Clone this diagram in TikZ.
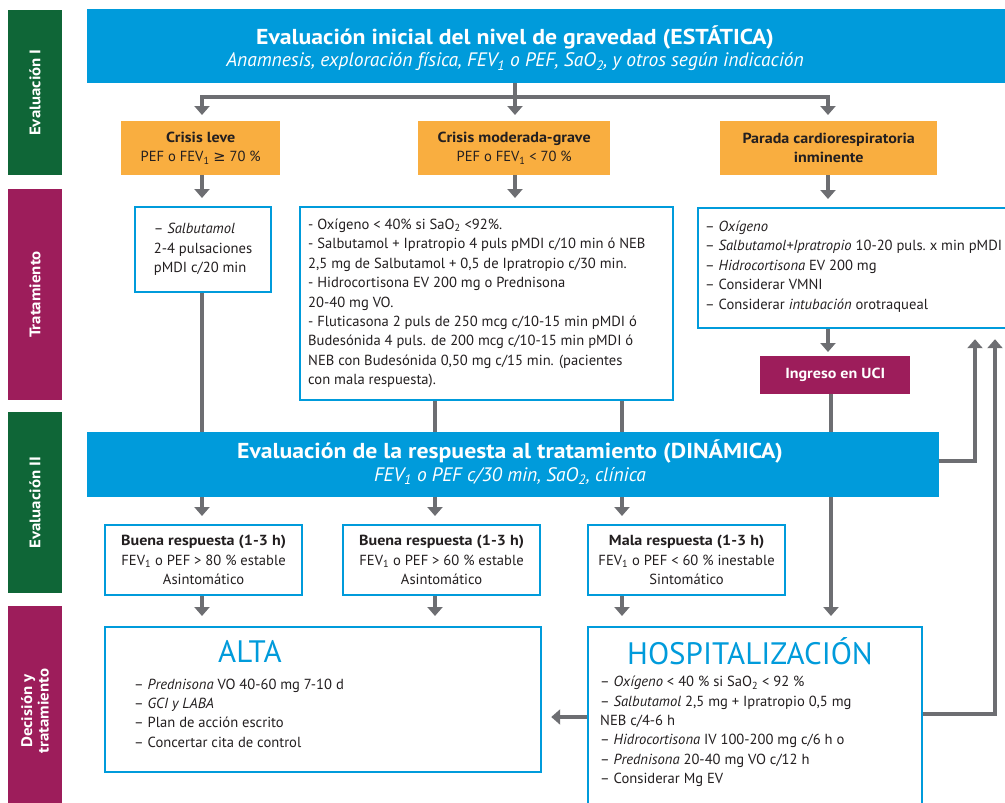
\documentclass[tikz,border=0pt]{standalone}
\usepackage{fontspec}
\setmainfont{PT Sans}[BoldFeatures={FakeStretch=1.1}]
\newfontfamily\symfont{DejaVu Sans}
\usetikzlibrary{arrows.meta,backgrounds}

\definecolor{hdrblue}{HTML}{009BDB}
\definecolor{sidegreen}{HTML}{0F6637}
\definecolor{sidepurple}{HTML}{9D1D5B}
\definecolor{crisisorange}{HTML}{F9AE40}
\definecolor{arrowgray}{HTML}{6D6E72}
\definecolor{inktext}{HTML}{231F20}

\newcommand{\fevi}{FEV\textsubscript{1}}
\newcommand{\saoii}{SaO\textsubscript{2}}

\tikzset{
  bodytext/.style={font=\fontsize{14.6}{19.4}\selectfont, text=inktext},
  sidebar/.style={rotate=90, text=white, font=\bfseries\fontsize{15.3}{16.5}\selectfont,
    minimum height=54pt, inner sep=0pt, align=center},
  hdrbox/.style={fill=hdrblue, inner sep=0pt, anchor=north west},
  hdrtitle/.style={text=white, font=\bfseries\fontsize{21.6}{23}\selectfont, inner sep=0pt},
  hdrsub/.style={text=white, font=\itshape\fontsize{19.5}{21}\selectfont, inner sep=0pt},
  crisisbox/.style={bodytext, fill=crisisorange, inner sep=0pt, align=center, anchor=north west},
  tbox/.style={bodytext, draw=hdrblue, line width=2.2pt, fill=white, inner sep=0pt, anchor=north west},
  ucibox/.style={fill=sidepurple, text=white, font=\bfseries\fontsize{14.6}{17}\selectfont,
    inner sep=0pt, anchor=north west},
  bigtitle/.style={text=hdrblue, font=\fontsize{31}{34}\selectfont, inner sep=0pt},
  listtext/.style={bodytext, align=left, inner sep=0pt, anchor=west}
}

\begin{document}
\begin{tikzpicture}[x=1pt, y=-1pt,
    arr/.style={draw=arrowgray, line width=4pt, -{Triangle[width=15pt,length=9pt]}},
    link/.style={draw=arrowgray, line width=4pt}]
  \useasboundingbox (0,0) rectangle (1005,803);

  % columns of the connectors
  \coordinate (c1) at (202,0);
  \coordinate (c2) at (435,0);
  \coordinate (c3) at (622,0);
  \coordinate (c4) at (831,0);
  \coordinate (cm) at (515,0);
  \coordinate (cp) at (828,0);
  \coordinate (fb1) at (975,0);
  \coordinate (fb2) at (995,0);

  % side labels
  \node[sidebar, fill=sidegreen, minimum width=165pt] (evi) at (35,92.5) {Evaluación I};
  \node[sidebar, fill=sidepurple, minimum width=211pt] (trat) at (35,294.5) {Tratamiento};
  \node[sidebar, fill=sidegreen, minimum width=181pt] (evii) at (35,502.5) {Evaluación II};
  \node[sidebar, fill=sidepurple, minimum width=210pt] (dec) at (35,711) {Decisión y\\tratamiento};

  % initial evaluation
  \node[hdrbox, minimum width=918pt, minimum height=74pt] (hdr) at (87,9) {};
  \node[hdrtitle] (hdrt) at (515,37) {Evaluación inicial del nivel de gravedad (ESTÁTICA)};
  \node[hdrsub] (hdrs) at (515,62) {Anamnesis, exploración física, \fevi{} o PEF, \saoii, y otros según indicación};

  % severity
  \node[crisisbox, minimum width=159pt, minimum height=54pt] (leve) at (121,121)
    {\textbf{Crisis leve}\\PEF o \fevi{} {\symfont ≥} 70 \%};
  \node[crisisbox, minimum width=192pt, minimum height=54pt] (mod) at (418,121)
    {\textbf{Crisis moderada-grave}\\PEF o \fevi{} < 70 \%};
  \node[crisisbox, minimum width=217pt, minimum height=54pt, font=\bfseries\fontsize{14.6}{19.4}\selectfont] (par) at (720,121)
    {Parada cardiorespiratoria\\inminente};

  % treatment
  \node[tbox, minimum width=136pt, minimum height=85pt, align=left] (salb) at (134,206)
    {-- \textit{Salbutamol}\\2-4 pulsaciones\\pMDI c/20 min};
  \node[tbox, minimum width=373pt, minimum height=193pt] (modt) at (299,206) {};
  \node[listtext] (modtxt) at (308,303.5)
    {- Oxígeno < 40\% si \saoii{} <92\%.\\
     - Salbutamol + Ipratropio 4 puls pMDI c/10 min ó NEB\\
     2,5 mg de Salbutamol + 0,5 de Ipratropio c/30 min.\\
     - Hidrocortisona EV 200 mg o Prednisona\\
     20-40 mg VO.\\
     - Fluticasona 2 puls de 250 mcg c/10-15 min pMDI ó\\
     Budesónida 4 puls. de 200 mcg c/10-15 min pMDI ó\\
     NEB con Budesónida 0,50 mg c/15 min. (pacientes\\
     con mala respuesta).};
  \node[tbox, minimum width=320pt, minimum height=120pt] (part) at (697,207) {};
  \node[listtext] (parttxt) at (705,266.5)
    {-- \textit{Oxígeno}\\
     -- \textit{Salbutamol+Ipratropio} 10-20 puls.\ x min pMDI\\
     -- \textit{Hidrocortisona} EV 200 mg\\
     -- Considerar VMNI\\
     -- Considerar \textit{intubación} orotraqueal};
  \node[ucibox, minimum width=150pt, minimum height=38pt] (uci) at (760,356) {Ingreso en UCI};

  % response evaluation
  \node[hdrbox, minimum width=852pt, minimum height=65pt] (ev2) at (87,432) {};
  \node[hdrtitle] (ev2t) at (510,451) {Evaluación de la respuesta al tratamiento (DINÁMICA)};
  \node[hdrsub] (ev2s) at (510,476) {\fevi{} o PEF c/30 min, \saoii, clínica};

  \node[tbox, minimum width=197pt, minimum height=70pt, align=center] (r1) at (104,524)
    {\textbf{Buena respuesta (1-3 h)}\\\fevi{} o PEF > 80 \% estable\\Asintomático};
  \node[tbox, minimum width=197pt, minimum height=70pt, align=center] (r2) at (342,524)
    {\textbf{Buena respuesta (1-3 h)}\\\fevi{} o PEF > 60 \% estable\\Asintomático};
  \node[tbox, minimum width=197pt, minimum height=70pt, align=center] (r3) at (587,524)
    {\textbf{Mala respuesta (1-3 h)}\\\fevi{} o PEF < 60 \% inestable\\Sintomático};

  % decision
  \node[tbox, minimum width=436pt, minimum height=145pt] (alta) at (104,626) {};
  \node[bigtitle] (altat) at (250,651) {ALTA};
  \node[listtext] (altal) at (134,713)
    {-- \textit{Prednisona} VO 40-60 mg 7-10 d\\
     -- \textit{GCI y LABA}\\
     -- Plan de acción escrito\\
     -- Concertar cita de control};

  \node[tbox, minimum width=334pt, minimum height=210pt] (hosp) at (587,626) {};
  \node[bigtitle] (hospt) at (750,651) {HOSPITALIZACIÓN};
  \node[listtext] (hospl) at (600,731.5)
    {-- \textit{Oxígeno} < 40 \% si \saoii{} < 92 \%\\
     -- \textit{Salbutamol} 2,5 mg + Ipratropio 0,5 mg\\
     NEB c/4-6 h\\
     -- \textit{Hidrocortisona} IV 100-200 mg c/6 h o\\
     -- \textit{Prednisona} 20-40 mg VO c/12 h\\
     -- Considerar Mg EV};
  \coordinate (hback) at ([yshift=-88pt]hosp.north east);
  \coordinate (hleft) at ([yshift=-91pt]hosp.north west);

  % connectors, kept under the boxes
  \begin{pgfonlayer}{background}
    \draw[link] (hdr.south -| cm) -- (cm |- 0,97) coordinate (split);
    \draw[arr, shorten >=6pt] (split) -| (leve.north -| c1);
    \draw[arr, shorten >=6pt] (split) -- (mod.north -| cm);
    \draw[arr, shorten >=6pt] (split) -| (par.north -| cp);
    \draw[arr, shorten >=8pt] (leve.south -| c1) -- (salb.north -| c1);
    \draw[arr, shorten >=8pt] (mod.south -| cm) -- (modt.north -| cm);
    \draw[arr, shorten >=8pt] (par.south -| cp) -- (part.north -| cp);
    \draw[link] (salb.south -| c1) -- (ev2.north -| c1);
    \draw[link] (modt.south -| c2) -- (ev2.north -| c2);
    \draw[link] (modt.south -| c3) -- (ev2.north -| c3);
    \draw[arr, shorten >=4pt] (part.south -| cp) -- (uci.north -| cp);
    \draw[arr, shorten >=10pt] (uci.south -| c4) -- (hosp.north -| c4);
    \draw[arr, shorten >=8pt] (ev2.south -| c1) -- (r1.north -| c1);
    \draw[arr, shorten >=8pt] (ev2.south -| c2) -- (r2.north -| c2);
    \draw[arr, shorten >=8pt] (ev2.south -| c3) -- (r3.north -| c3);
    \draw[arr, shorten >=10pt] (r1.south -| c1) -- (alta.north -| c1);
    \draw[arr, shorten >=10pt] (r2.south -| c2) -- (alta.north -| c2);
    \draw[arr, shorten >=10pt] (r3.south -| c3) -- (hosp.north -| c3);
    \draw[arr, shorten >=10pt] ([yshift=3.5pt]ev2.east) -| (part.south -| fb1);
    \draw[arr, shorten >=10pt] (hback) -| (part.south -| fb2);
    \draw[arr, shorten >=9pt] (hleft) -- (hleft -| alta.east);
  \end{pgfonlayer}
\end{tikzpicture}
\end{document}
